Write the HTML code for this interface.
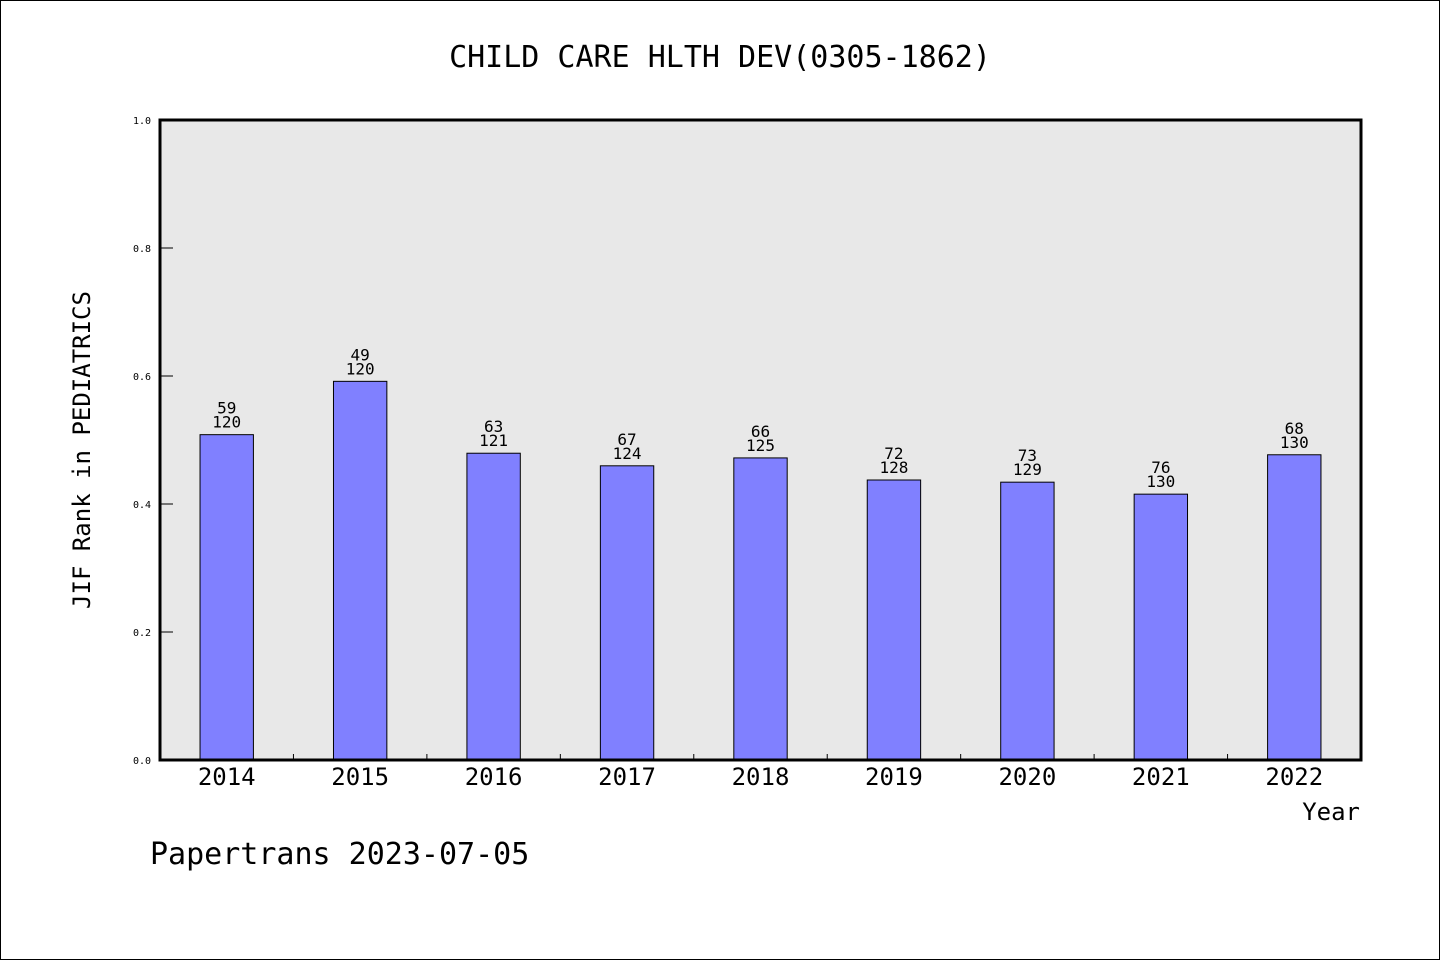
<!DOCTYPE html>
<html><head><meta charset="utf-8"><style>
html,body{margin:0;padding:0;background:#fff}
svg{display:block}
text{font-family:"WenQuanYi Zen Hei","DejaVu Sans Mono",monospace;fill:#000}
</style></head><body>
<svg id="chart" width="1440" height="960">
<rect x="0.5" y="0.5" width="1439" height="959" fill="#fff" stroke="#000"/>
<text x="720" y="67" font-size="30" text-anchor="middle">CHILD CARE HLTH DEV(0305-1862)</text>
<rect x="160" y="120" width="1201" height="640" fill="#e8e8e8"/>
<g id="bars"></g>
<g id="axes"></g>
<rect x="160" y="120" width="1201" height="640" fill="none" stroke="#000" stroke-width="3"/>
<text x="90" y="450" font-size="24" text-anchor="middle" transform="rotate(-90 90 450)">JIF Rank in PEDIATRICS</text>
<text x="1360" y="820" font-size="24" text-anchor="end">Year</text>
<text x="150" y="864" font-size="30">Papertrans 2023-07-05</text>
</svg>
<script>
const years=["2014","2015","2016","2017","2018","2019","2020","2021","2022"];
const ranks=[59,49,63,67,66,72,73,76,68];
const totals=[120,120,121,124,125,128,129,130,130];
const yTicks=[0,0.2,0.4,0.6,0.8,1.0];
const NS="http://www.w3.org/2000/svg";
const X0=160,W=1201,Y0=760,H=640;
const step=W/years.length;
const xC=i=>X0+step*(i+0.5);
const yS=v=>Y0-v*H;
function mk(tag,attrs,parent){const e=document.createElementNS(NS,tag);for(const k in attrs)e.setAttribute(k,attrs[k]);parent.appendChild(e);return e;}
const bars=document.getElementById('bars'),axes=document.getElementById('axes');
years.forEach((y,i)=>{
  const v=1-ranks[i]/totals[i];
  const bw=step*0.4;
  const r=mk('rect',{x:xC(i)-bw/2,y:yS(v),width:bw,height:Y0-yS(v),fill:'#8080ff',stroke:'#000','stroke-width':1},bars);
  
  
  const t1=mk('text',{x:xC(i),y:yS(v)-21,'font-size':16,'text-anchor':'middle'},bars);
  t1.textContent=ranks[i];
  
  
  const t2=mk('text',{x:xC(i),y:yS(v)-7,'font-size':16,'text-anchor':'middle'},bars);
  t2.textContent=totals[i];
  
  
  const xl=mk('text',{x:xC(i),y:785,'font-size':24,'text-anchor':'middle'},axes);
  xl.textContent=y;
  
  
  if(i>0){
    const tk=mk('line',{x1:X0+step*i,x2:X0+step*i,y1:Y0,y2:Y0-6,stroke:'#000','stroke-width':1},axes);
    
    
  }
});
yTicks.forEach(v=>{
  const ln=mk('line',{x1:X0,x2:X0+13,y1:yS(v),y2:yS(v),stroke:'#000','stroke-width':1},axes);
  
  
  const t=mk('text',{x:151,y:yS(v)+4,'font-size':10,'text-anchor':'end'},axes);
  t.textContent=v.toFixed(1);
  
  
});
</script>
</body></html>
